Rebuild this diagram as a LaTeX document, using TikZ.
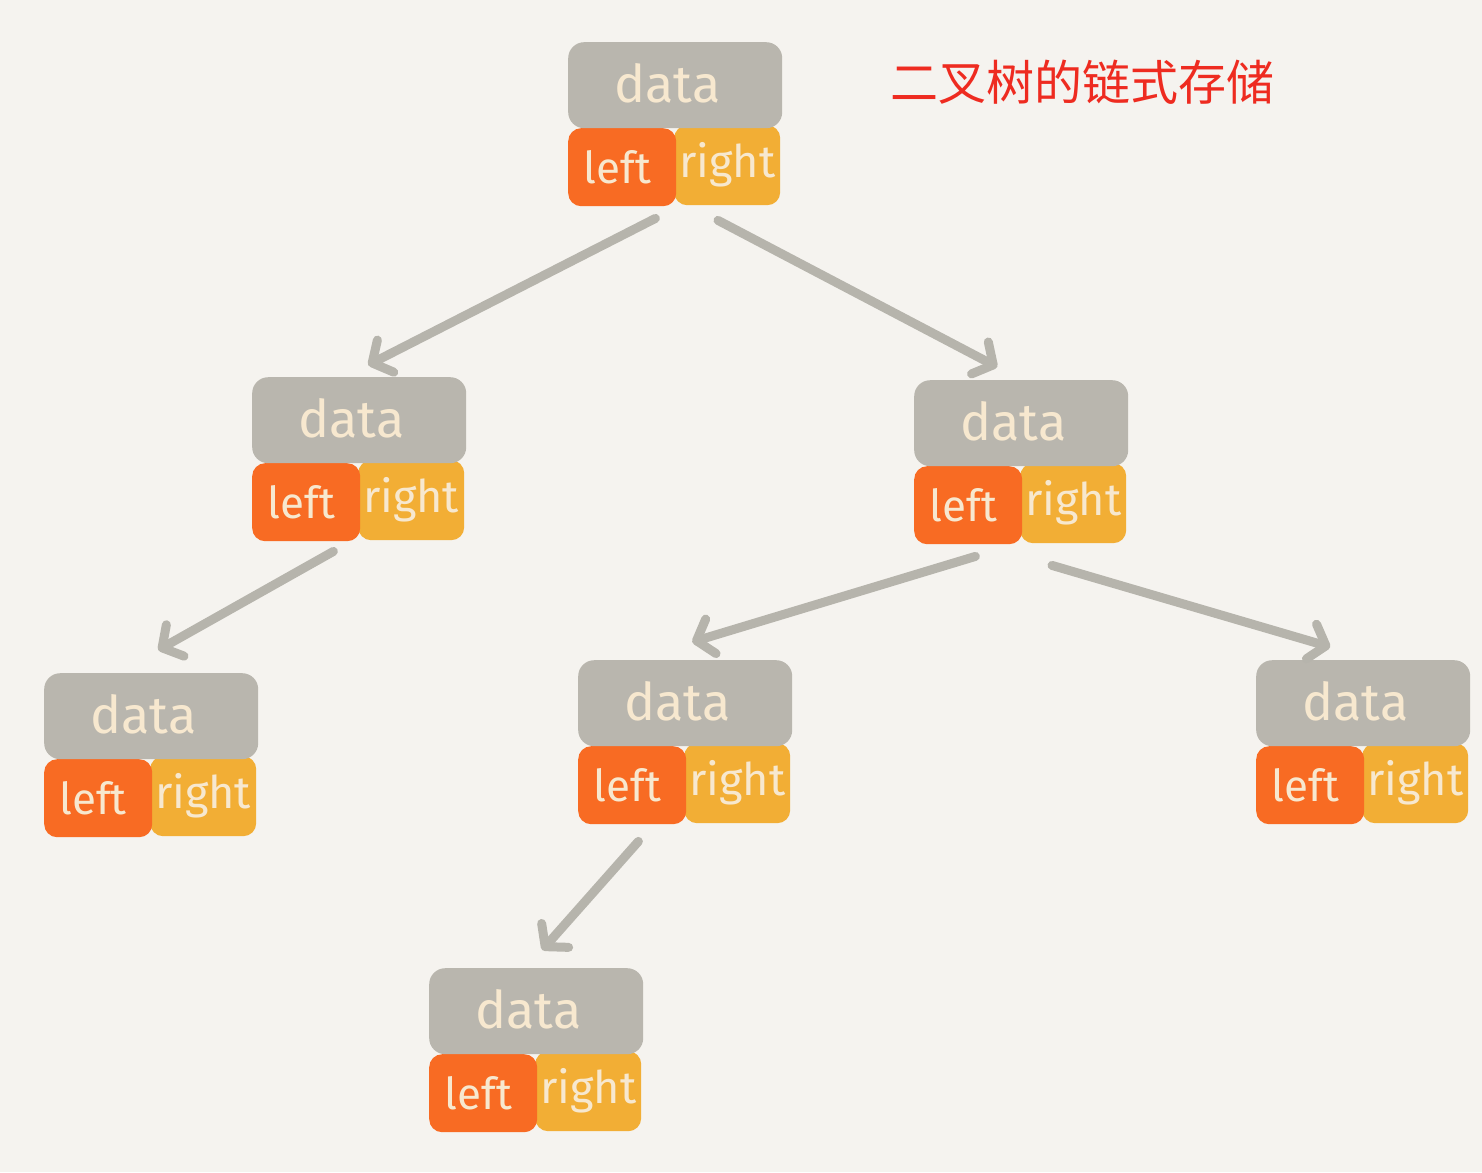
\documentclass[tikz,border=0pt]{standalone}
\usepackage{fontspec}
\setmainfont{Fira Sans}
\newfontfamily\cjk{Noto Sans CJK SC}
\usetikzlibrary{arrows.meta,calc}
\definecolor{bg}{HTML}{F5F3EF}
\definecolor{boxgray}{HTML}{B9B6AE}
\definecolor{lorange}{HTML}{F86B23}
\definecolor{ryellow}{HTML}{F2AE35}
\definecolor{txt}{HTML}{F7E8CF}
\definecolor{arrgray}{HTML}{B6B4AC}
\definecolor{titlered}{HTML}{EE2B20}
\tikzset{
  databox/.style={fill=boxgray, rounded corners=16pt, minimum width=214pt, minimum height=86pt,
    inner sep=0pt, anchor=north west, text=txt, font=\fontsize{52}{52}\selectfont},
  leftbox/.style={fill=lorange, rounded corners=13pt, minimum width=108pt, minimum height=78pt,
    inner sep=0pt, anchor=north west, text=txt, font=\fontsize{44}{44}\selectfont},
  rightbox/.style={fill=ryellow, rounded corners=13pt, minimum width=106pt, minimum height=80pt,
    inner sep=0pt, anchor=north west, text=txt, font=\fontsize{45}{45}\selectfont},
  arr/.style={draw=arrgray, line width=9pt, line cap=round, line join=round,
    -{Straight Barb[length=15pt,width=36pt,line cap=round,line join=round]}},
  title/.style={text=titlered, font=\cjk\fontsize{48}{48}\selectfont, inner sep=0pt}
}
\newcommand\tnode[3]{%
  \node[rightbox] (#1-r) at (#2+106,#3+83) {right};
  \node[leftbox] (#1-l) at (#2,#3+86) {\hspace*{-10pt}left};
  \node[databox] (#1-d) at (#2,#3) {\raisebox{4pt}{data}\hspace*{16pt}};
}
\begin{document}
\begin{tikzpicture}[x=1pt,y=-1pt]
  \fill[bg] (0,0) rectangle (1482,1172);
  \useasboundingbox (0,0) rectangle (1482,1172);
  \tnode{r}{568}{42}
  \tnode{a}{252}{377}
  \tnode{b}{914}{380}
  \tnode{c}{44}{673}
  \tnode{e}{578}{660}
  \tnode{f}{1256}{660}
  \tnode{g}{429}{968}
  \node[title] (t) at (1082,82) {二叉树的链式存储};
  \draw[arr] ($(r-l.south east)+(-21,12)$) -- ($(a-d.north)+(9,-12)$);
  \draw[arr] ($(r-r.south west)+(44,15)$) -- ($(b-d.north)+(-24,-13)$);
  \draw[arr] ($(a-l.south east)+(-27,10)$) -- ($(c-d.north)+(7,-23)$);
  \draw[arr] ($(b-l.south east)+(-47,12)$) -- ($(e-d.north)+(7,-18)$);
  \draw[arr] ($(b-r.south west)+(32,22)$) -- ($(f-d.north)+(-33,-13)$);
  \draw[arr] ($(e-l.south east)+(-48,17)$) -- ($(g-d.north)+(6,-18)$);
\end{tikzpicture}
\end{document}
